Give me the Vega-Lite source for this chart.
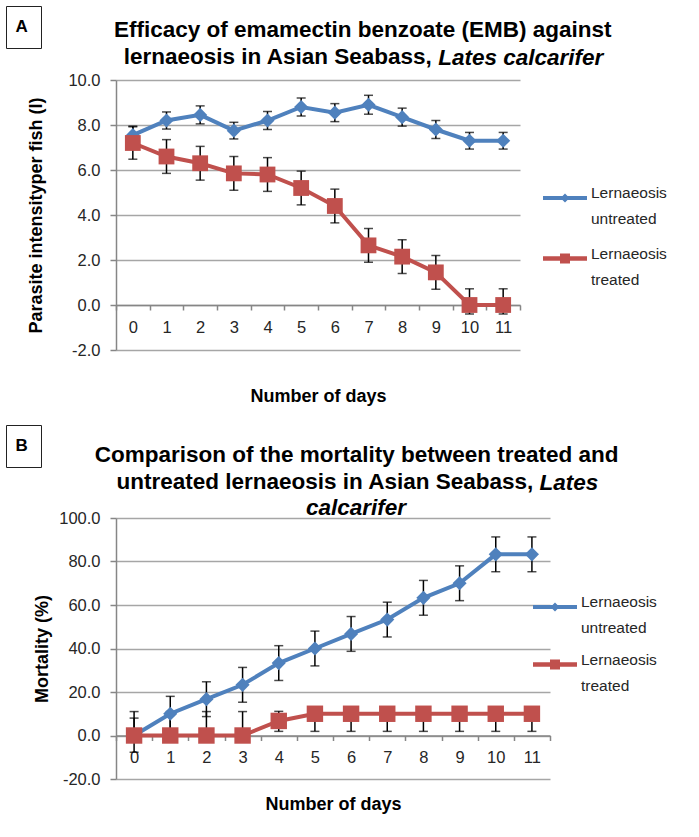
{
  "$schema": "https://vega.github.io/schema/vega-lite/v6.json",
  "padding": {"left": 5, "top": 5, "right": 5, "bottom": 5},
  "columns": 1,
  "align": "none",
  "spacing": 18,
  "resolve": {"scale": {"color": "independent", "shape": "independent", "strokeDash": "independent"}, "legend": {"color": "independent", "shape": "independent", "strokeDash": "independent"}},
  "datasets": {
    "panelA": [
      {"day": 0, "series": "Lernaeosis untreated", "v": 7.55, "lo": 7.15, "hi": 7.95},
      {"day": 1, "series": "Lernaeosis untreated", "v": 8.2, "lo": 7.82, "hi": 8.58},
      {"day": 2, "series": "Lernaeosis untreated", "v": 8.45, "lo": 8.05, "hi": 8.85},
      {"day": 3, "series": "Lernaeosis untreated", "v": 7.75, "lo": 7.38, "hi": 8.12},
      {"day": 4, "series": "Lernaeosis untreated", "v": 8.2, "lo": 7.8, "hi": 8.6},
      {"day": 5, "series": "Lernaeosis untreated", "v": 8.8, "lo": 8.4, "hi": 9.2},
      {"day": 6, "series": "Lernaeosis untreated", "v": 8.55, "lo": 8.15, "hi": 8.95},
      {"day": 7, "series": "Lernaeosis untreated", "v": 8.9, "lo": 8.48, "hi": 9.32},
      {"day": 8, "series": "Lernaeosis untreated", "v": 8.35, "lo": 7.95, "hi": 8.75},
      {"day": 9, "series": "Lernaeosis untreated", "v": 7.8, "lo": 7.4, "hi": 8.2},
      {"day": 10, "series": "Lernaeosis untreated", "v": 7.3, "lo": 6.93, "hi": 7.67},
      {"day": 11, "series": "Lernaeosis untreated", "v": 7.3, "lo": 6.93, "hi": 7.67},
      {"day": 0, "series": "Lernaeosis treated", "v": 7.2, "lo": 6.48, "hi": 7.92},
      {"day": 1, "series": "Lernaeosis treated", "v": 6.6, "lo": 5.85, "hi": 7.35},
      {"day": 2, "series": "Lernaeosis treated", "v": 6.3, "lo": 5.55, "hi": 7.05},
      {"day": 3, "series": "Lernaeosis treated", "v": 5.85, "lo": 5.1, "hi": 6.6},
      {"day": 4, "series": "Lernaeosis treated", "v": 5.8, "lo": 5.05, "hi": 6.55},
      {"day": 5, "series": "Lernaeosis treated", "v": 5.2, "lo": 4.45, "hi": 5.95},
      {"day": 6, "series": "Lernaeosis treated", "v": 4.4, "lo": 3.65, "hi": 5.15},
      {"day": 7, "series": "Lernaeosis treated", "v": 2.65, "lo": 1.9, "hi": 3.4},
      {"day": 8, "series": "Lernaeosis treated", "v": 2.15, "lo": 1.4, "hi": 2.9},
      {"day": 9, "series": "Lernaeosis treated", "v": 1.45, "lo": 0.7, "hi": 2.2},
      {"day": 10, "series": "Lernaeosis treated", "v": 0, "lo": -0.4, "hi": 0.72},
      {"day": 11, "series": "Lernaeosis treated", "v": 0, "lo": -0.4, "hi": 0.72}
    ],
    "panelB": [
      {"day": 0, "series": "Lernaeosis untreated", "v": 0, "lo": 0, "hi": 8},
      {"day": 1, "series": "Lernaeosis untreated", "v": 10, "lo": 2, "hi": 18},
      {"day": 2, "series": "Lernaeosis untreated", "v": 16.7, "lo": 8.7, "hi": 24.7},
      {"day": 3, "series": "Lernaeosis untreated", "v": 23.3, "lo": 15.3, "hi": 31.3},
      {"day": 4, "series": "Lernaeosis untreated", "v": 33.3, "lo": 25.3, "hi": 41.3},
      {"day": 5, "series": "Lernaeosis untreated", "v": 40, "lo": 32, "hi": 48},
      {"day": 6, "series": "Lernaeosis untreated", "v": 46.7, "lo": 38.7, "hi": 54.7},
      {"day": 7, "series": "Lernaeosis untreated", "v": 53.3, "lo": 45.3, "hi": 61.3},
      {"day": 8, "series": "Lernaeosis untreated", "v": 63.3, "lo": 55.3, "hi": 71.3},
      {"day": 9, "series": "Lernaeosis untreated", "v": 70, "lo": 62, "hi": 78},
      {"day": 10, "series": "Lernaeosis untreated", "v": 83.3, "lo": 75.3, "hi": 91.3},
      {"day": 11, "series": "Lernaeosis untreated", "v": 83.3, "lo": 75.3, "hi": 91.3},
      {"day": 0, "series": "Lernaeosis treated", "v": 0, "lo": -7.7, "hi": 11},
      {"day": 1, "series": "Lernaeosis treated", "v": 0, "lo": 0, "hi": 11},
      {"day": 2, "series": "Lernaeosis treated", "v": 0, "lo": 0, "hi": 11},
      {"day": 3, "series": "Lernaeosis treated", "v": 0, "lo": 0, "hi": 11},
      {"day": 4, "series": "Lernaeosis treated", "v": 6.7, "lo": 1.9, "hi": 11.1},
      {"day": 5, "series": "Lernaeosis treated", "v": 10, "lo": 1.9, "hi": 10},
      {"day": 6, "series": "Lernaeosis treated", "v": 10, "lo": 1.9, "hi": 10},
      {"day": 7, "series": "Lernaeosis treated", "v": 10, "lo": 1.9, "hi": 10},
      {"day": 8, "series": "Lernaeosis treated", "v": 10, "lo": 1.9, "hi": 10},
      {"day": 9, "series": "Lernaeosis treated", "v": 10, "lo": 1.9, "hi": 10},
      {"day": 10, "series": "Lernaeosis treated", "v": 10, "lo": 1.9, "hi": 10},
      {"day": 11, "series": "Lernaeosis treated", "v": 10, "lo": 1.9, "hi": 10}
    ]
  },
  "concat": [
    {
      "title": {"text": "Efficacy of emamectin benzoate (EMB) against", "anchor": "start", "frame": "bounds", "dx": 108.5, "dy": 39, "offset": 3.5},
      "vconcat": [
        {
          "title": {"text": "lernaeosis in Asian Seabass,", "anchor": "start", "frame": "bounds", "align": "right", "dx": 404, "dy": 22, "offset": 0},
          "vconcat": [
            {
              "width": 404,
              "height": 270,
              "data": {"name": "panelA"},
              "title": {"text": "Lates calcarifer", "fontStyle": "italic", "anchor": "start", "frame": "bounds", "align": "left", "dx": 410.3, "offset": 3},
              "encoding": {
                "x": {"field": "day", "type": "ordinal", "scale": {"type": "band", "paddingInner": 0, "paddingOuter": 0},
                  "axis": {"title": "Number of days", "labelAngle": 0, "offset": -45, "tickBand": "extent", "grid": false, "tickSize": 5, "labelPadding": 9, "titlePadding": 52}}
              },
              "layer": [
                {"mark": {"type": "rule", "color": "black", "strokeWidth": 1.5},
                  "encoding": {"y": {"field": "lo", "type": "quantitative", "scale": {"domain": [-2, 10], "nice": false, "zero": false},
                    "axis": {"title": "Parasite intensityper fish (I)", "values": [-2, 0, 2, 4, 6, 8, 10], "labelExpr": "(datum.value < 0 ? '-' : '') + format(abs(datum.value), '.1f')", "titlePadding": 22}},
                    "y2": {"field": "hi"}}},
                {"mark": {"type": "tick", "color": "black", "orient": "horizontal", "size": 9, "thickness": 1.5},
                  "encoding": {"y": {"field": "lo", "type": "quantitative"}}},
                {"mark": {"type": "tick", "color": "black", "orient": "horizontal", "size": 9, "thickness": 1.5},
                  "encoding": {"y": {"field": "hi", "type": "quantitative"}}},
                {"mark": {"type": "line", "strokeWidth": 4},
                  "encoding": {"y": {"field": "v", "type": "quantitative"},
                    "color": {"field": "series", "type": "nominal", "scale": {"domain": ["Lernaeosis untreated", "Lernaeosis treated"], "range": ["#4F81BD", "#C0504D"]}}}},
                {"transform": [{"filter": "datum.series == 'Lernaeosis untreated'"}],
                  "mark": {"type": "point", "filled": true, "opacity": 1, "shape": "diamond", "size": 200},
                  "encoding": {"y": {"field": "v", "type": "quantitative"}, "color": {"field": "series", "type": "nominal"}}},
                {"transform": [{"filter": "datum.series == 'Lernaeosis treated'"}],
                  "mark": {"type": "point", "filled": true, "opacity": 1, "shape": "square", "size": 250},
                  "encoding": {"y": {"field": "v", "type": "quantitative"}, "color": {"field": "series", "type": "nominal"}}},
                {"transform": [{"filter": "datum.day < 0"}],
                  "mark": {"type": "point", "filled": true, "opacity": 1},
                  "encoding": {"y": {"field": "v", "type": "quantitative"},
                    "color": {"field": "series", "type": "nominal",
                      "legend": {"orient": "none", "legendX": 439, "legendY": 108, "title": null, "symbolSize": 400, "symbolStrokeWidth": 0, "symbolOpacity": 1, "labelOffset": 16, "labelExpr": "split(datum.label, ' ')", "labelBaseline": "alphabetic", "padding": 0, "rowPadding": 18.5, "labelFontSize": 15.5}},
                    "shape": {"field": "series", "type": "nominal", "scale": {"domain": ["Lernaeosis untreated", "Lernaeosis treated"], "range": ["M-2.2,-0.2H2.2V0.2H-2.2Z M-0.45,0L0,-0.45L0.45,0L0,0.45Z", "M-2.2,-0.22H2.2V0.22H-2.2Z M-0.5,-0.5H0.5V0.5H-0.5Z"]}}}},
                {"transform": [{"filter": "datum.day < 0"}],
                  "mark": {"type": "rule"},
                  "encoding": {"y": {"field": "v", "type": "quantitative"},
                    "strokeDash": {"datum": "A", "type": "nominal", "scale": {"domain": ["A"]},
                      "legend": {"orient": "none", "legendX": -110, "legendY": -74, "title": null, "symbolType": "circle", "symbolSize": 0, "symbolOpacity": 0, "symbolStrokeWidth": 0, "labelOffset": -20, "labelFontSize": 17, "labelFontWeight": "bold", "labelColor": "black", "padding": 12.5, "strokeColor": "#222", "fillColor": "white"}}}}
              ]
            }
          ]
        }
      ]
    },
    {
      "title": {"text": "Comparison of the mortality between treated and", "anchor": "start", "frame": "bounds", "dx": 89.2, "dy": 44, "offset": 2.5},
      "vconcat": [
        {
          "title": {"text": "untreated lernaeosis in Asian Seabass,", "anchor": "start", "frame": "bounds", "align": "right", "dx": 499.6, "dy": 22, "offset": 0},
          "vconcat": [
            {
              "title": {"text": "Lates", "fontStyle": "italic", "anchor": "start", "frame": "bounds", "align": "left", "dx": 505.9, "offset": 2.5},
              "vconcat": [
                {
                  "width": 434,
                  "height": 261,
                  "data": {"name": "panelB"},
                  "title": {"text": "calcarifer", "fontStyle": "italic", "anchor": "start", "frame": "bounds", "dx": 272.3, "offset": -9},
                  "encoding": {
                    "x": {"field": "day", "type": "ordinal", "scale": {"type": "band", "paddingInner": 0, "paddingOuter": 0},
                      "axis": {"title": "Number of days", "labelAngle": 0, "offset": -43.5, "tickBand": "extent", "grid": false, "tickSize": 5, "labelPadding": 9, "titlePadding": 29}}
                  },
                  "layer": [
                    {"mark": {"type": "rule", "color": "black", "strokeWidth": 1.5},
                      "encoding": {"y": {"field": "lo", "type": "quantitative", "scale": {"domain": [-20, 100], "nice": false, "zero": false},
                        "axis": {"title": "Mortality (%)", "values": [-20, 0, 20, 40, 60, 80, 100], "labelExpr": "(datum.value < 0 ? '-' : '') + format(abs(datum.value), '.1f')", "titlePadding": 7}},
                        "y2": {"field": "hi"}}},
                    {"mark": {"type": "tick", "color": "black", "orient": "horizontal", "size": 9, "thickness": 1.5},
                      "encoding": {"y": {"field": "lo", "type": "quantitative"}}},
                    {"mark": {"type": "tick", "color": "black", "orient": "horizontal", "size": 9, "thickness": 1.5},
                      "encoding": {"y": {"field": "hi", "type": "quantitative"}}},
                    {"mark": {"type": "line", "strokeWidth": 4},
                      "encoding": {"y": {"field": "v", "type": "quantitative"},
                        "color": {"field": "series", "type": "nominal", "scale": {"domain": ["Lernaeosis untreated", "Lernaeosis treated"], "range": ["#4F81BD", "#C0504D"]}}}},
                    {"transform": [{"filter": "datum.series == 'Lernaeosis untreated'"}],
                      "mark": {"type": "point", "filled": true, "opacity": 1, "shape": "diamond", "size": 200},
                      "encoding": {"y": {"field": "v", "type": "quantitative"}, "color": {"field": "series", "type": "nominal"}}},
                    {"transform": [{"filter": "datum.series == 'Lernaeosis treated'"}],
                      "mark": {"type": "point", "filled": true, "opacity": 1, "shape": "square", "size": 270},
                      "encoding": {"y": {"field": "v", "type": "quantitative"}, "color": {"field": "series", "type": "nominal"}}},
                    {"transform": [{"filter": "datum.day < 0"}],
                      "mark": {"type": "point", "filled": true, "opacity": 1},
                      "encoding": {"y": {"field": "v", "type": "quantitative"},
                        "color": {"field": "series", "type": "nominal",
                          "legend": {"orient": "none", "legendX": 429, "legendY": 79, "title": null, "symbolSize": 400, "symbolStrokeWidth": 0, "symbolOpacity": 1, "labelOffset": 16, "labelExpr": "split(datum.label, ' ')", "labelBaseline": "alphabetic", "padding": 0, "rowPadding": 15.5, "labelFontSize": 15.5}},
                        "shape": {"field": "series", "type": "nominal", "scale": {"domain": ["Lernaeosis untreated", "Lernaeosis treated"], "range": ["M-2.2,-0.2H2.2V0.2H-2.2Z M-0.45,0L0,-0.45L0.45,0L0,0.45Z", "M-2.2,-0.22H2.2V0.22H-2.2Z M-0.5,-0.5H0.5V0.5H-0.5Z"]}}}},
                    {"transform": [{"filter": "datum.day < 0"}],
                      "mark": {"type": "rule"},
                      "encoding": {"y": {"field": "v", "type": "quantitative"},
                        "strokeDash": {"datum": "B", "type": "nominal", "scale": {"domain": ["B"]},
                          "legend": {"orient": "none", "legendX": -110, "legendY": -93, "title": null, "symbolType": "circle", "symbolSize": 0, "symbolOpacity": 0, "symbolStrokeWidth": 0, "labelOffset": -20, "labelFontSize": 17, "labelFontWeight": "bold", "labelColor": "black", "padding": 12.5, "strokeColor": "#222", "fillColor": "white"}}}}
                  ]
                }
              ]
            }
          ]
        }
      ]
    }
  ],
  "config": {
    "font": "Liberation Sans",
    "view": {"stroke": null},
    "title": {"fontSize": 22.5, "fontWeight": "bold", "color": "black", "font": "Liberation Sans"},
    "axis": {"labelFontSize": 16.5, "labelColor": "#262626", "titleFontSize": 18, "titleFontWeight": "bold", "titleColor": "black", "domainColor": "#868686", "domainWidth": 1.5, "tickColor": "#868686", "tickWidth": 1.5, "gridColor": "#a6a6a6", "gridWidth": 1.5},
    "axisY": {"tickSize": 6, "labelPadding": 10, "grid": true},
    "legend": {"labelColor": "#262626"},
    "style": {"guide-label": {"lineHeight": 26}}
  }
}
